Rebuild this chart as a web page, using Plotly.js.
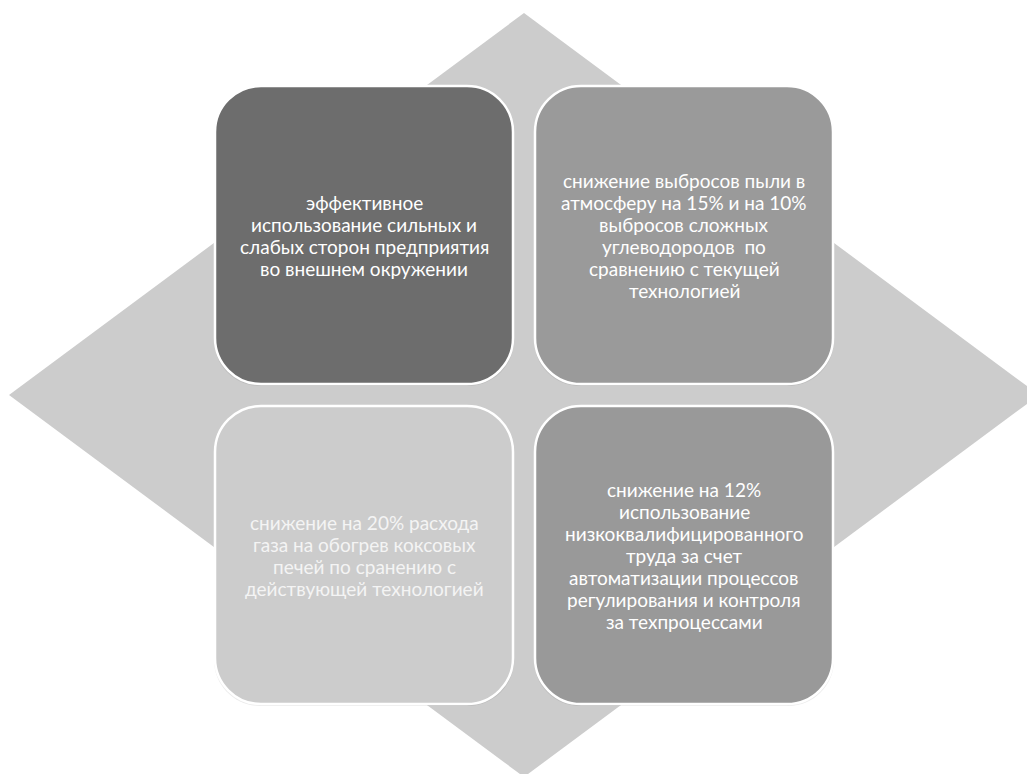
<!DOCTYPE html>
<html>
<head>
<meta charset="utf-8">
<script src="https://cdn.plot.ly/plotly-3.0.1.min.js"></script>
<style>
  html, body { margin: 0; padding: 0; background: #ffffff; }
  #chart { width: 1027px; height: 774px; }
</style>
</head>
<body>
<div id="chart"></div>
<script>
// ---- Data: the four outcome statements (top-left, top-right, bottom-left, bottom-right), line by line
const categories = ["TL", "TR", "BL", "BR"];
const statementTL = ["эффективное", "использование сильных и", "слабых сторон предприятия", "во внешнем окружении"];
const statementTR = ["снижение выбросов пыли в", "атмосферу на 15% и на 10%", "выбросов сложных", "углеводородов  по", "сравнению с текущей", "технологией"];
const statementBL = ["снижение на 20% расхода", "газа на обогрев коксовых", "печей по сранению с", "действующей технологией"];
const statementBR = ["снижение на 12%", "использование", "низкоквалифицированного", "труда за счет", "автоматизации процессов", "регулирования и контроля", "за техпроцессами"];
const statements = [statementTL, statementTR, statementBL, statementBR];

// ---- Styles / layout (not data)
const fills = ["#6d6d6d", "#9a9a9a", "#cccccc", "#999999"];
const textColors = ["#ffffff", "#ffffff", "#f4f4f4", "#ffffff"];
const W = 1027, H = 774;
const cx = 524, cy = 395;           // diagram centre
const diamondHalfW = 515, diamondHalfH = 382;
const boxW = 298, boxH = 298, gap = 22, radius = 46;
const fontSize = 19, lineStep = 22;

function roundedRect(x0, y0, x1, y1, r) {
  const k = 0.5523 * r;
  return `M ${x0 + r} ${y0} L ${x1 - r} ${y0} ` +
    `C ${x1 - r + k} ${y0} ${x1} ${y0 + r - k} ${x1} ${y0 + r} ` +
    `L ${x1} ${y1 - r} ` +
    `C ${x1} ${y1 - r + k} ${x1 - r + k} ${y1} ${x1 - r} ${y1} ` +
    `L ${x0 + r} ${y1} ` +
    `C ${x0 + r - k} ${y1} ${x0} ${y1 - r + k} ${x0} ${y1 - r} ` +
    `L ${x0} ${y0 + r} ` +
    `C ${x0} ${y0 + r - k} ${x0 + r - k} ${y0} ${x0 + r} ${y0} Z`;
}

const shapes = [];
const annotations = [];

// background diamond
shapes.push({
  type: "path", xref: "x", yref: "y",
  path: `M ${cx} ${cy - diamondHalfH} L ${cx + diamondHalfW} ${cy} L ${cx} ${cy + diamondHalfH} L ${cx - diamondHalfW} ${cy} Z`,
  fillcolor: "#cccccc", line: { width: 0 }, layer: "below"
});

categories.forEach((c, i) => {
  const col = i % 2, row = Math.floor(i / 2);
  const x0 = col === 0 ? cx - gap / 2 - boxW : cx + gap / 2;
  const y0 = row === 0 ? cy - gap / 2 - boxH : cy + gap / 2;
  const x1 = x0 + boxW, y1 = y0 + boxH;
  shapes.push({
    type: "path", xref: "x", yref: "y",
    path: roundedRect(x0 - 1, y0 + 1, x1 + 1, y1 + 2, radius),
    fillcolor: "rgba(0,0,0,0.08)", line: { width: 0 }, layer: "above"
  });
  shapes.push({
    type: "path", xref: "x", yref: "y",
    path: roundedRect(x0, y0, x1, y1, radius),
    fillcolor: fills[i], line: { color: "#ffffff", width: 2.5 }, layer: "above"
  });
  const lines = statements[i];
  const midY = (y0 + y1) / 2;
  lines.forEach((ln, j) => {
    annotations.push({
      x: (x0 + x1) / 2, y: midY + (j - (lines.length - 1) / 2) * lineStep,
      xref: "x", yref: "y",
      text: ln, showarrow: false,
      font: { family: "Lato, 'Open Sans', sans-serif", size: fontSize, color: textColors[i] },
      align: "center", xanchor: "center", yanchor: "middle"
    });
  });
});

const layout = {
  width: W, height: H,
  margin: { l: 0, r: 0, t: 0, b: 0, pad: 0 },
  paper_bgcolor: "#ffffff", plot_bgcolor: "#ffffff",
  xaxis: { range: [0, W], visible: false, fixedrange: true },
  yaxis: { range: [H, 0], visible: false, fixedrange: true },
  shapes: shapes,
  annotations: annotations,
  showlegend: false
};

Plotly.newPlot("chart", [{ x: [], y: [], type: "scatter", mode: "markers", hoverinfo: "skip" }], layout, { displayModeBar: false, staticPlot: true });
</script>
</body>
</html>
